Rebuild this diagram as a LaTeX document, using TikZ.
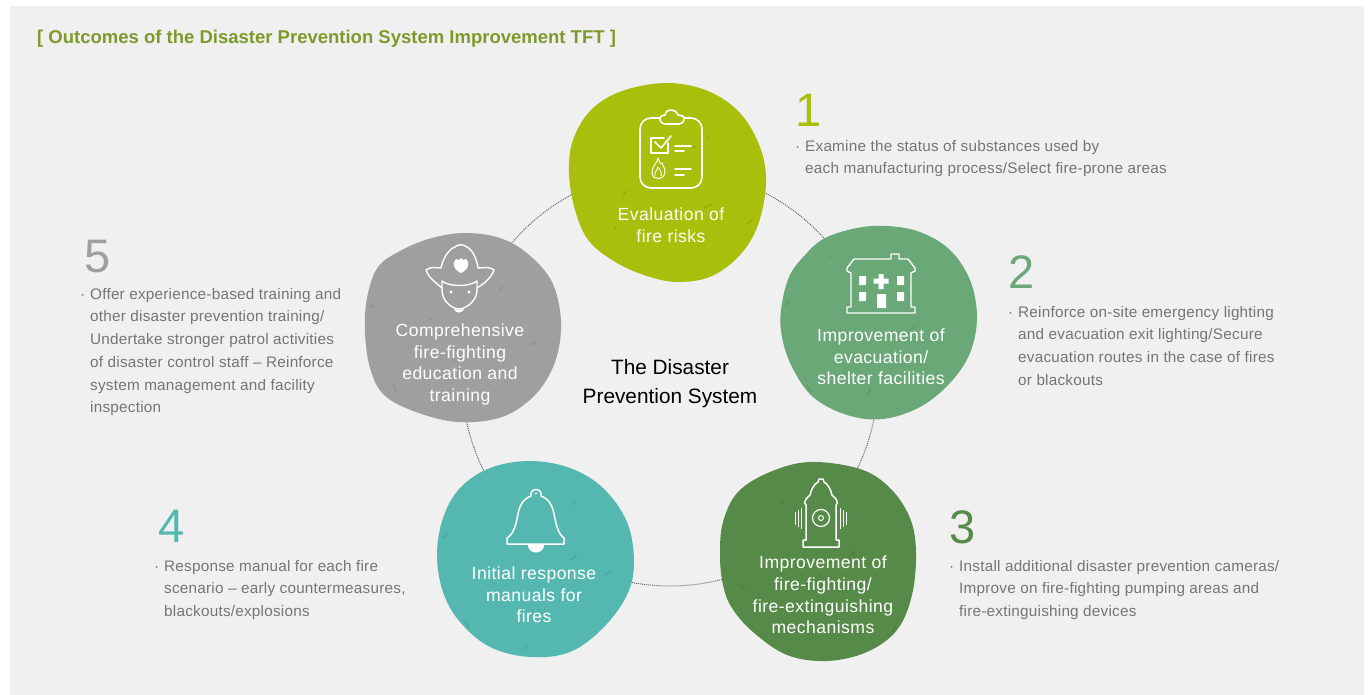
\documentclass[tikz,border=0pt]{standalone}
\usepackage{fontspec}
\setmainfont{Liberation Sans}
\newfontfamily\spaced[LetterSpace=2.5]{Liberation Sans}
\newfontfamily\spacedb[LetterSpace=1.5]{Liberation Sans}
\definecolor{bgc}{HTML}{F0F0F0}
\definecolor{cA}{HTML}{A8BF0C}
\definecolor{cB}{HTML}{6BA878}
\definecolor{cC}{HTML}{568A48}
\definecolor{cD}{HTML}{55B8B0}
\definecolor{cE}{HTML}{9E9FA1}
\definecolor{tgray}{HTML}{757575}
\definecolor{titlec}{HTML}{7D9A2A}
\tikzset{
  blob/.style={smooth cycle,tension=0.6},
  ico/.style={draw=white,line width=1.6pt,line join=round,line cap=round},
  speck/.style={draw=black,opacity=0.1,line width=1.2pt,line cap=round},
  blabel/.style={text=white,align=center,inner sep=0pt,font=\fontsize{17.6}{21.6}\selectfont\spaced},
  numlab/.style={inner sep=0pt,font=\fontsize{47}{47}\selectfont},
  desc/.style={anchor=north west,inner sep=0pt,align=left,text=tgray,font=\fontsize{15.3}{22.7}\selectfont\spacedb},
}
\newcommand{\dotmark}{\llap{·\hspace{5pt}}}
\begin{document}
\begin{tikzpicture}[x=1pt,y=-1pt]
\useasboundingbox (0,0) rectangle (1368,695);
\fill[white] (0,0) rectangle (1368,695);
\fill[bgc] (10,6) rectangle (1364,695);
\node[anchor=west,inner sep=0pt,text=titlec,font=\fontsize{18.5}{20}\selectfont\bfseries] (title) at (37,39) {[ Outcomes of the Disaster Prevention System Improvement TFT ]};

% dotted ring
\coordinate (ringc) at (670,378);
\draw[black!60,densely dotted,line width=1pt] (ringc) circle[radius=208pt];

% blobs
\fill[cA] plot[blob] coordinates {(667,83)(622,91)(591,110)(573,140)(569,173)(575,210)(589,241)(617,263)(650,277)(680,282)(712,276)(740,255)(758,225)(766,183)(760,147)(740,113)(708,91)};
\fill[cB] plot[blob] coordinates {(825,238)(857,228)(887,226)(920,232)(950,250)(970,280)(977,317)(970,353)(950,383)(920,407)(883,419)(847,415)(813,397)(792,367)(782,337)(781,310)(789,277)(805,255)};
\fill[cC] plot[blob] coordinates {(860,469)(890,488)(910,518)(916,552)(912,595)(897,630)(867,652)(827,661)(787,655)(753,632)(732,608)(723,585)(720,555)(723,522)(738,492)(770,472)(810,462)};
\fill[cD] plot[blob] coordinates {(530,461)(490,468)(460,488)(443,518)(437,555)(443,592)(460,622)(490,647)(530,657)(570,652)(603,628)(627,595)(634,562)(627,522)(603,488)(570,468)};
\fill[cE] plot[blob] coordinates {(378,267)(367,298)(365,332)(370,368)(384,395)(416,412)(458,422)(502,417)(535,395)(555,362)(561,322)(552,282)(528,254)(500,238)(465,233)(432,238)(402,250)};

% texture
\draw[speck] (623,195) -- (627,191) (704,208) -- (712,204) (614,230) -- (616,226) (747,224) -- (752,220) (707,138) -- (709,136) (693,148) -- (696,146);
\draw[speck] (785,305) -- (789,302) (807,385) -- (811,392) (830,257) -- (833,255) (910,330) -- (915,327) (868,395) -- (870,388);
\draw[speck] (893,632) -- (895,626) (740,585) -- (745,590) (850,555) -- (855,552) (780,500) -- (783,503);
\draw[speck] (465,620) -- (469,628) (443,538) -- (448,535) (570,560) -- (577,556) (575,502) -- (572,505) (605,575) -- (610,571) (525,650) -- (527,645);
\draw[speck] (393,385) -- (396,392) (370,308) -- (374,305) (500,290) -- (503,287) (530,345) -- (535,342) (430,320) -- (433,318);

% icon 1: clipboard
\draw[ico,rounded corners=11pt] (660,118) -- (640,118) -- (640,188) -- (702,188) -- (702,118) -- (684,118);
\draw[ico] (660,118) .. controls (660,122) and (662,124) .. (666,124) -- (679,124) .. controls (682,124) and (684,122) .. (684,118) .. controls (684,115) and (680,116) .. (678,115) .. controls (676,111) and (674,110) .. (671,110) .. controls (668,110) and (666,111) .. (665,115) .. controls (663,116) and (660,115) .. (660,118) -- cycle;
\draw[ico] (668,143) -- (668,153) -- (651,153) -- (651,138) -- (664,138);
\draw[ico] (655,142) -- (661,148) -- (671,136);
\draw[ico] (675,146) -- (691,146) (675,151) -- (684,151) (675,169) -- (691,169) (675,175) -- (684,175);
\draw[draw=white,line width=1pt,line join=round] (658,158) .. controls (658,163) and (652,165) .. (652,172) .. controls (652,177) and (655,178.500) .. (658,178.500) .. controls (662,178.500) and (665,176) .. (665,171) .. controls (665,167) and (662,166) .. (662,163) .. controls (660,165) and (660,162) .. (658,158) -- cycle;
\draw[draw=white,line width=0.9pt,line join=round] (655,176) .. controls (654,172) and (657,171) .. (658,167) .. controls (660,170) and (662,172) .. (661,176);

% icon 2: building
\draw[ico,line width=1.4pt] (891,259) -- (891,254) -- (899,254) -- (899,259) -- (908,259) -- (915,268) -- (915,271) -- (911,273) -- (911,307) -- (915,307) -- (915,313) -- (847,313) -- (847,307) -- (851,307) -- (851,273) -- (847,271) -- (847,268) -- (854,259) -- cycle;
\fill[white] (859,276) rectangle (866,285) (897,276) rectangle (904,285) (859,292) rectangle (866,301) (897,292) rectangle (904,301) (877,294) rectangle (886,308);
\fill[white] (873.500,278.500) rectangle (888.500,283.500) (878.500,274) rectangle (883.500,289);

% icon 3: hydrant
\draw[ico,line width=1.5pt] (806,540) -- (806,505) -- (804.500,503) -- (806,499) -- (810,495) .. controls (811,490) and (814,484) .. (818,482) -- (819,479) -- (823,479) -- (824,482) .. controls (828,484) and (831,490) .. (832,495) -- (836,499) -- (837.500,503) -- (836,505) -- (836,540) -- (839,540) -- (839,547) -- (803,547) -- (803,540) -- cycle;
\draw[ico,line width=1.2pt] (821,518) circle[radius=8.500pt];
\draw[ico,line width=1pt] (821,518) circle[radius=2.500pt];
\draw[ico,line width=1.6pt,line cap=butt] (795.500,512) -- (795.500,525) (798.500,510) -- (798.500,527) (801.500,508) -- (801.500,529);
\draw[ico,line width=1.6pt,line cap=butt] (840.500,508) -- (840.500,529) (843.500,510) -- (843.500,527) (846.500,512) -- (846.500,525);

% icon 4: bell
\fill[white] (527.500,544) .. controls (528,550) and (532,552.500) .. (536,552.500) .. controls (540,552.500) and (544,550) .. (544.500,544) -- cycle;
\draw[ico,line width=1.5pt] (507,544) -- (507,538) .. controls (514,534) and (516,524) .. (518,514) .. controls (520,503) and (525,498) .. (531,496) .. controls (530,492) and (533,489.500) .. (536,489.500) .. controls (539,489.500) and (542,492) .. (541,496) .. controls (547,498) and (552,503) .. (554,514) .. controls (556,524) and (558,534) .. (564,538) -- (564,544) -- cycle;
\fill[white] (536,493.500) circle[radius=1.200pt];

% icon 5: firefighter
\draw[ico,line width=1.4pt] (442,288) .. controls (435,282) and (428,277) .. (426,270) .. controls (431,266) and (438,268) .. (441,268) .. controls (443,258) and (449,249) .. (455,247) .. controls (458,244) and (463,244) .. (467,247) .. controls (473,250) and (477,260) .. (478,268) .. controls (483,268) and (489,266) .. (494,270) .. controls (491,278) and (485,283) .. (477,288);
\draw[ico,line width=1.4pt] (442,281) .. controls (449,287) and (469,287) .. (477,281) -- (477,290) .. controls (477,300) and (468,308) .. (459,309) .. controls (450,308) and (442,300) .. (442,290) -- cycle;
\fill[white] (451,292) circle[radius=1.700pt] (469,292) circle[radius=1.700pt];
\fill[white] (453.500,308.500) .. controls (456,314) and (462,314) .. (464.500,308.500) .. controls (461,310) and (457,310) .. (453.500,308.500) -- cycle;
\fill[white] (454,262) -- (456,259) -- (459,260) -- (461,258) -- (463,260) -- (466,259) -- (468,262) .. controls (469,267) and (466,271) .. (461,273) .. controls (456,271) and (453,267) .. (454,262) -- cycle;

% blob labels
\node[blabel] (lA) at (671,225) {Evaluation of\\fire risks};
\node[blabel] (lB) at (881,357) {Improvement of\\evacuation/\\shelter facilities};
\node[blabel] (lC) at (823,595) {Improvement of\\fire-fighting/\\fire-extinguishing\\mechanisms};
\node[blabel] (lD) at (534,595) {Initial response\\manuals for\\fires};
\node[blabel] (lE) at (460,364.500) {Comprehensive\\fire-fighting\\education and\\training};

% centre
\node[align=center,inner sep=0pt,font=\fontsize{20.8}{29}\selectfont] (centre) at (670,384) {The Disaster\\Prevention System};

% numbers
\node[numlab,text=cA] (n1) at (809,110) {1};
\node[numlab,text=cB] (n2) at (1022,272) {2};
\node[numlab,text=cC] (n3) at (963,527) {3};
\node[numlab,text=cD] (n4) at (172,526) {4};
\node[numlab,text=cE] (n5) at (98,257) {5};

% descriptions
\node[desc] (d1) at (805,140) {\dotmark Examine the status of substances used by\\each manufacturing process/Select fire-prone areas};
\node[desc] (d2) at (1018,306) {\dotmark Reinforce on-site emergency lighting\\and evacuation exit lighting/Secure\\evacuation routes in the case of fires\\or blackouts};
\node[desc] (d3) at (959,560) {\dotmark Install additional disaster prevention cameras/\\Improve on fire-fighting pumping areas and\\fire-extinguishing devices};
\node[desc] (d4) at (164,560) {\dotmark Response manual for each fire\\scenario – early countermeasures,\\blackouts/explosions};
\node[desc] (d5) at (90,288) {\dotmark Offer experience-based training and\\other disaster prevention training/\\Undertake stronger patrol activities\\of disaster control staff – Reinforce\\system management and facility\\inspection};
\end{tikzpicture}
\end{document}
